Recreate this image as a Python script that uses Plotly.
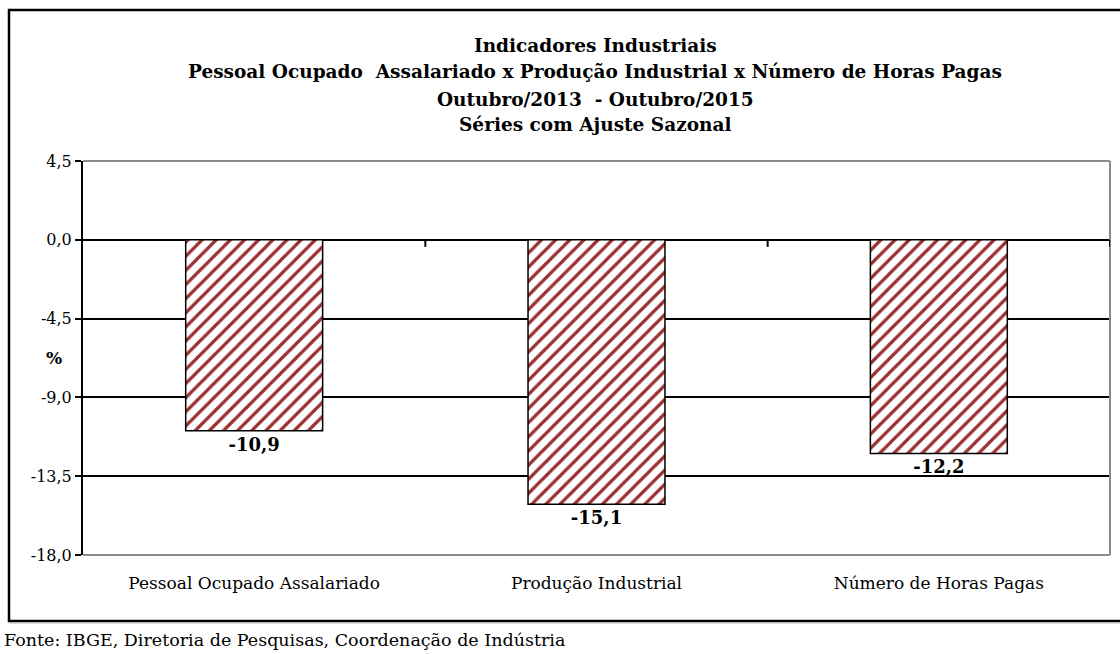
import plotly.graph_objects as go

categories = ["Pessoal Ocupado Assalariado", "Produção Industrial", "Número de Horas Pagas"]
values = [-10.9, -15.1, -12.2]
y_ticks = [4.5, 0.0, -4.5, -9.0, -13.5, -18.0]

title_lines = [
    "Indicadores Industriais",
    "Pessoal Ocupado  Assalariado x Produção Industrial x Número de Horas Pagas",
    "Outubro/2013  - Outubro/2015",
    "Séries com Ajuste Sazonal",
]
footer = "Fonte: IBGE, Diretoria de Pesquisas, Coordenação de Indústria"


def fmt(v):
    return f"{v:.1f}".replace(".", ",")


FONT = "DejaVu Serif"
W, H = 1120, 654
L, R, T, B = 83, 1110, 161, 555


def px(xp):
    return (xp - L) / (R - L)


def py(yp):
    return (B - yp) / (B - T)


fig = go.Figure()
fig.add_trace(go.Bar(
    x=categories,
    y=values,
    width=0.4,
    marker=dict(
        color="white",
        line=dict(color="black", width=1.5),
        pattern=dict(shape="/", fgcolor="#9a3030", bgcolor="white", fgopacity=1,
                     size=10, solidity=0.32),
    ),
    text=[fmt(v) for v in values],
    textposition="outside",
    textfont=dict(family=FONT, size=18, color="black", weight="bold"),
    cliponaxis=False,
    hoverinfo="skip",
))

fig.update_layout(
    width=W, height=H,
    margin=dict(l=L, r=W - R, t=T, b=H - B, pad=0),
    paper_bgcolor="white", plot_bgcolor="white",
    showlegend=False,
    font=dict(family=FONT, size=16, color="black"),
)

fig.update_yaxes(
    range=[y_ticks[-1], y_ticks[0]],
    tickvals=y_ticks,
    ticktext=[fmt(v) for v in y_ticks],
    showgrid=True, gridcolor="black", gridwidth=1.5,
    zeroline=True, zerolinecolor="black", zerolinewidth=2,
    showline=True, linecolor="black", linewidth=2,
    ticks="outside", ticklen=6, tickcolor="black", tickwidth=1.5,
    tickfont=dict(family=FONT, size=16, color="black"),
    fixedrange=True,
)
fig.update_xaxes(
    range=[-0.5, 2.5],
    showgrid=False, showline=False, ticks="",
    tickfont=dict(family=FONT, size=17, color="black"),
    ticklabelstandoff=16,
    fixedrange=True,
)

shapes = []
# plot frame (gray) top, right, bottom
for (x0, y0, x1, y1) in [(0, 1, 1, 1), (1, 0, 1, 1), (0, 0, 1, 0)]:
    shapes.append(dict(type="line", xref="paper", yref="paper", x0=x0, y0=y0, x1=x1, y1=y1,
                       line=dict(color="#8c8c8c", width=2), layer="above"))
# category boundary ticks on zero line
for xb in [0.5, 1.5, 2.5]:
    shapes.append(dict(type="line", xref="x", yref="y", x0=xb, x1=xb, y0=0, y1=-0.4,
                       line=dict(color="black", width=2), layer="above"))
# outer border
shapes.append(dict(type="rect", xref="paper", yref="paper",
                   x0=px(9), x1=px(1125), y0=py(621), y1=py(10),
                   line=dict(color="black", width=2.5), fillcolor="rgba(0,0,0,0)", layer="above"))
shapes.append(dict(type="line", xref="paper", yref="paper",
                   x0=px(9), x1=px(1125), y0=py(623), y1=py(623),
                   line=dict(color="#b0b0b0", width=1), layer="above"))
fig.update_layout(shapes=shapes)

annotations = []
title_y = [45, 72, 99, 125]
for line, yy in zip(title_lines, title_y):
    annotations.append(dict(text="<b>" + line + "</b>", xref="paper", yref="paper",
                            x=px(595), y=py(yy), xanchor="center", yanchor="middle",
                            showarrow=False, font=dict(family=FONT, size=18.5, color="black")))
annotations.append(dict(text="<b>%</b>", xref="paper", yref="y", x=px(54), y=-6.75,
                        xanchor="center", yanchor="middle", showarrow=False,
                        font=dict(family=FONT, size=17, color="black")))
annotations.append(dict(text=footer, xref="paper", yref="paper", x=px(2), y=py(640),
                        xanchor="left", yanchor="middle", showarrow=False,
                        font=dict(family=FONT, size=17.5, color="black")))
fig.update_layout(annotations=annotations)

fig.write_html("out.html", config={"displayModeBar": False},
               post_script="document.body.style.margin='0';")
